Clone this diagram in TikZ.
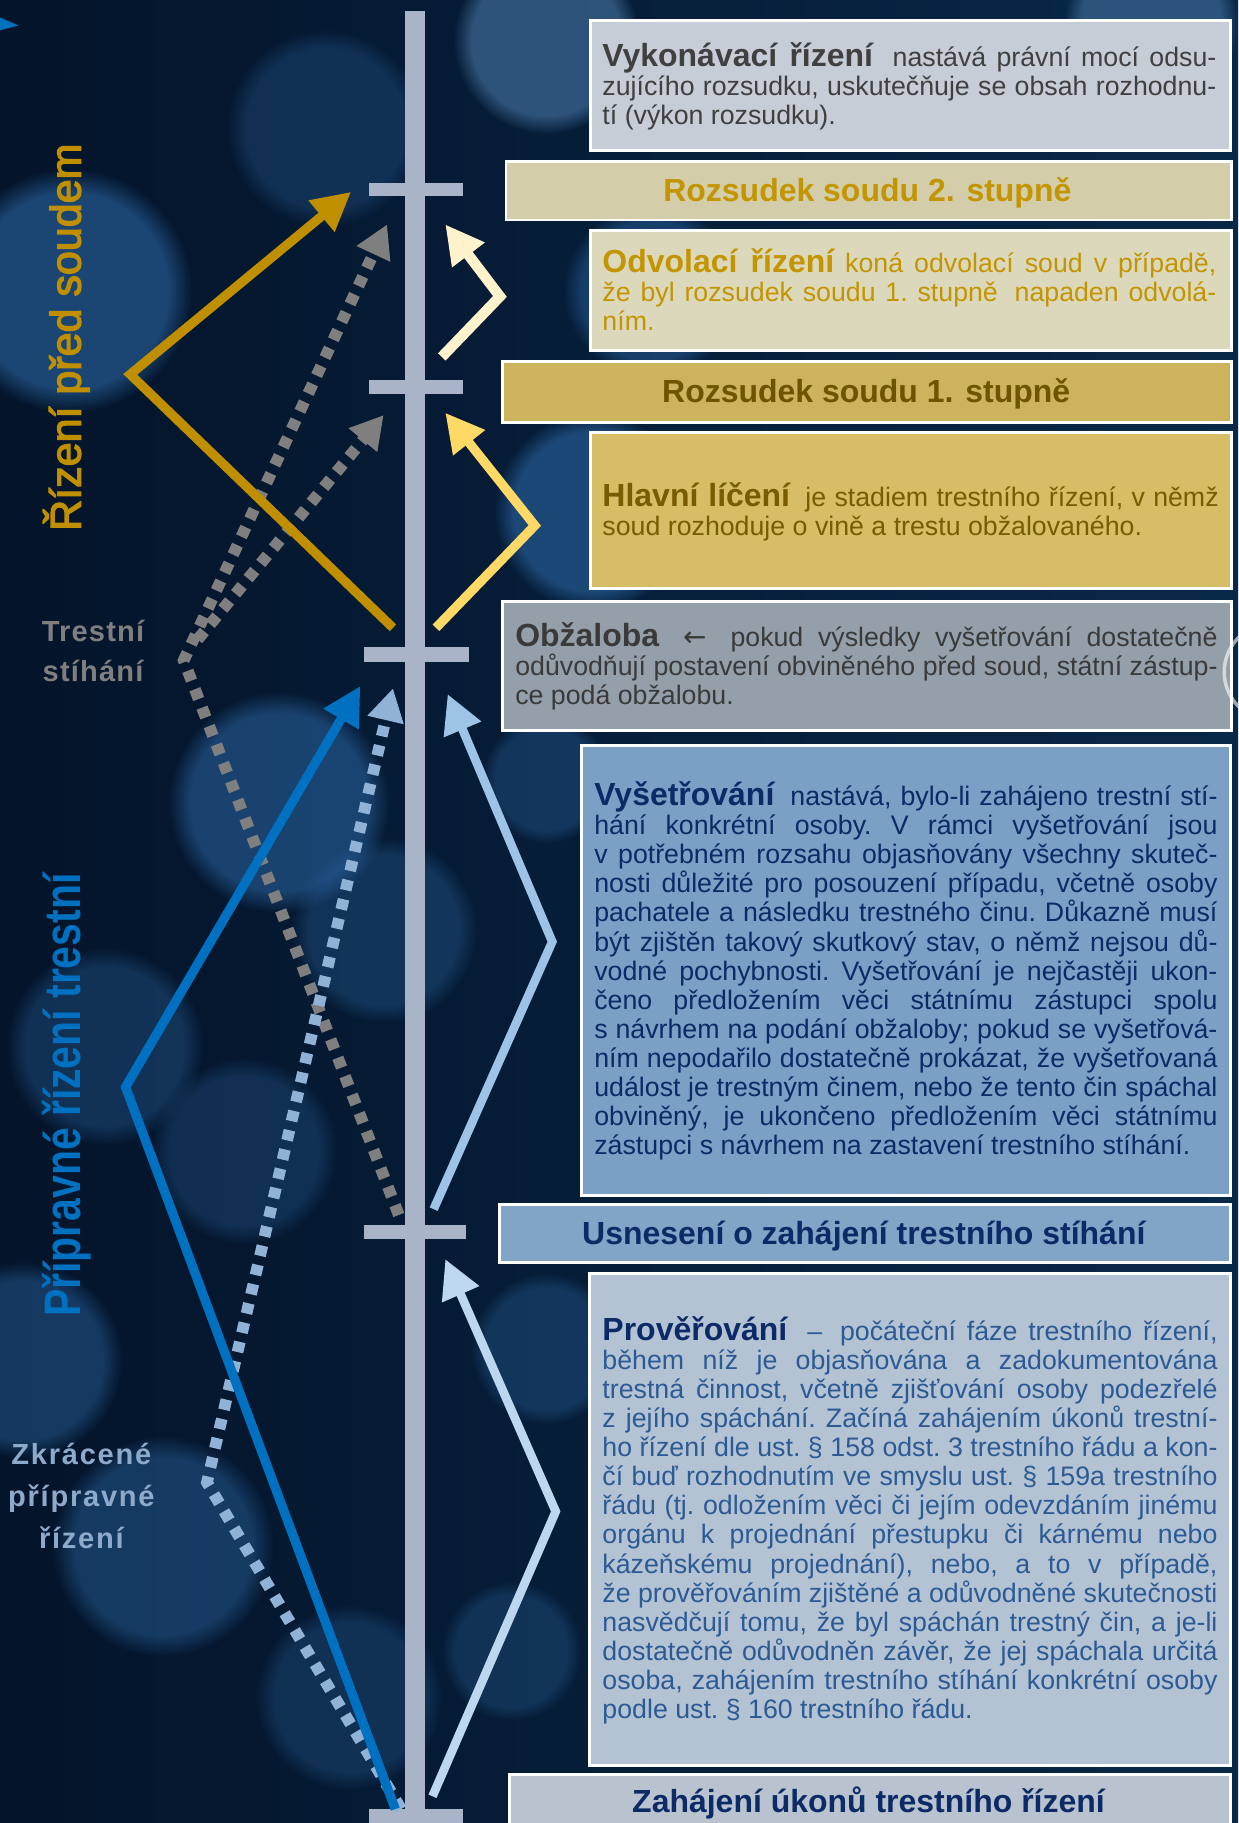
\documentclass[tikz,border=0pt]{standalone}
\usepackage{fontspec}
\setmainfont{Liberation Sans}
\newfontfamily\condfont{Liberation Sans}[FakeStretch=0.8]
\newfontfamily\medfont{Liberation Sans}[FakeBold=3]
\newfontfamily\djv{DejaVu Sans}
\usetikzlibrary{arrows.meta,fadings}

\definecolor{bgA}{HTML}{04142A}
\definecolor{bgB}{HTML}{082848}
\definecolor{barcol}{HTML}{A9B4C8}
\definecolor{goldarr}{HTML}{BF8F00}
\definecolor{grayarr}{HTML}{7F7F7F}
\definecolor{bluearr}{HTML}{0070C0}
\definecolor{bluedot}{HTML}{8FB2D6}
\definecolor{creamarr}{HTML}{FFF2CC}
\definecolor{lgoldarr}{HTML}{FFD966}
\definecolor{lbluearr}{HTML}{9DC3E6}
\definecolor{vlbluearr}{HTML}{BDD7EE}
\definecolor{fillA}{HTML}{C6CDD7}
\definecolor{fillB}{HTML}{D3CDAA}
\definecolor{fillC}{HTML}{DCD8BC}
\definecolor{fillD}{HTML}{CDB35C}
\definecolor{fillE}{HTML}{D6BD66}
\definecolor{fillF}{HTML}{959FAA}
\definecolor{fillG}{HTML}{7AA0C5}
\definecolor{fillH}{HTML}{82A4C7}
\definecolor{fillI}{HTML}{B4C3D3}
\definecolor{fillJ}{HTML}{B8C3CF}
\definecolor{txtgray}{HTML}{404040}
\definecolor{txtgold}{HTML}{C39500}
\definecolor{txtolive}{HTML}{6E5300}
\definecolor{txtbrown}{HTML}{7A5C00}
\definecolor{txtdgray}{HTML}{3A3A3A}
\definecolor{txtnavy}{HTML}{0C2A66}
\definecolor{txtblue}{HTML}{2C5A94}
\definecolor{lblgray}{HTML}{7F7F7F}
\definecolor{lblblue}{HTML}{8EAACB}
\definecolor{bokA}{HTML}{2B66A3}
\definecolor{bokB}{HTML}{4A78A8}

\newcommand{\hd}{\fontsize{27.5}{25}\selectfont\bfseries}
\newcommand{\bd}{\fontsize{23}{25}\selectfont\frenchspacing}
\newcommand{\jline}[1]{\makebox[\linewidth][s]{#1}\\}

\begin{document}
\begin{tikzpicture}[x=1pt,y=-1pt,
  panel/.style={draw=white, line width=2.5pt, inner sep=0pt, anchor=north west},
  bartick/.style={fill=barcol, draw=none, inner sep=0pt, anchor=center},
  txt/.style={inner sep=0pt, anchor=base west},
  head/.style={inner sep=0pt, anchor=base, font=\hd},
  thickarrow/.style={line width=8pt, -{Triangle[length=33pt,width=33pt]}},
  dotarrow/.style={line width=10pt, dash pattern=on 9pt off 8pt, -{Triangle[length=28pt,width=30pt]}},
  bokeh/.style={path fading=circle with fuzzy edge 20 percent},
]
\useasboundingbox (0,0) rectangle (1065,1568);
\begin{scope}
\clip (0,0) rectangle (1065,1568);
% background
\shade[left color=bgA, right color=bgB] (0,0) rectangle (1065,1568);
\fill[bokB, opacity=.6, bokeh] (470,35) circle (80);
\fill[bokB, opacity=.55, bokeh] (990,20) circle (75);
\fill[bokA, opacity=.6, bokeh] (60,250) circle (105);
\fill[bokA, opacity=.3, bokeh] (280,110) circle (85);
\fill[bokA, opacity=.45, bokeh] (560,250) circle (75);
\fill[bokA, opacity=.6, bokeh] (510,440) circle (85);
\fill[bokA, opacity=.55, bokeh] (240,690) circle (95);
\fill[bokA, opacity=.35, bokeh] (90,900) circle (85);
\fill[bokA, opacity=.35, bokeh] (330,800) circle (80);
\fill[bokA, opacity=.3, bokeh] (210,990) circle (80);
\fill[bokA, opacity=.45, bokeh] (20,1170) circle (85);
\fill[bokA, opacity=.45, bokeh] (140,1330) circle (95);
\fill[bokA, opacity=.3, bokeh] (300,1460) circle (80);
\fill[bokA, opacity=.35, bokeh] (470,1160) circle (65);
\fill[bokA, opacity=.35, bokeh] (470,670) circle (55);
\fill[bokA, opacity=.3, bokeh] (440,1420) circle (60);
\fill[bluearr] (0,15) -- (16,22) -- (0,26) -- cycle;

% time axis
\node[fill=barcol, inner sep=0pt, minimum width=17pt, minimum height=1570pt, anchor=north] (bar) at (357,9) {};
\node[bartick, minimum width=81pt, minimum height=12pt] (k1) at (358,163) {};
\node[bartick, minimum width=81pt, minimum height=12pt] (k2) at (358,333) {};
\node[bartick, minimum width=90pt, minimum height=13pt] (k3) at (358,563) {};
\node[bartick, minimum width=87pt, minimum height=12pt] (k4) at (357,1060) {};
\node[bartick, minimum width=81pt, minimum height=14pt] (k5) at (358,1563) {};

% connector points
\coordinate (g0) at (338,540); \coordinate (g1) at (112,322); \coordinate (g2) at (302,165);
\coordinate (d0) at (343,1045); \coordinate (d1) at (158,568); \coordinate (d2) at (333,193);
\coordinate (e0) at (170,550); \coordinate (e2) at (330,357);
\coordinate (q0) at (345,1556); \coordinate (q1) at (178,1275); \coordinate (q2) at (338,592);
\coordinate (s0) at (340,1556); \coordinate (s1) at (108,935); \coordinate (s2) at (310,590);
\coordinate (c0) at (380,307); \coordinate (c1) at (430,255); \coordinate (c2) at (383,193);
\coordinate (h0) at (375,540); \coordinate (h1) at (460,452); \coordinate (h2) at (383,355);
\coordinate (l0) at (373,1040); \coordinate (l1) at (475,810); \coordinate (l2) at (385,597);
\coordinate (v0) at (372,1545); \coordinate (v1) at (478,1300); \coordinate (v2) at (383,1083);

\draw[dotarrow, grayarr] (d0) -- (d1) -- (d2);
\draw[dotarrow, grayarr] (e0) -- (e2);
\draw[thickarrow, goldarr] (g0) -- (g1) -- (g2);
\draw[dotarrow, bluedot] (q0) -- (q1) -- (q2);
\draw[thickarrow, bluearr] (s0) -- (s1) -- (s2);
\draw[thickarrow, creamarr, line width=9pt] (c0) -- (c1) -- (c2);
\draw[thickarrow, lgoldarr] (h0) -- (h1) -- (h2);
\draw[thickarrow, lbluearr, line width=7.5pt] (l0) -- (l1) -- (l2);
\draw[thickarrow, vlbluearr, line width=7.5pt] (v0) -- (v1) -- (v2);

% panels
\node[panel, fill=fillA, minimum width=550pt, minimum height=112pt] (p1) at (507,16) {};
\node[panel, fill=fillB, minimum width=624pt, minimum height=50pt] (p2) at (434,138) {};
\node[panel, fill=fillC, minimum width=551pt, minimum height=103pt] (p3) at (507,197) {};
\node[panel, fill=fillD, minimum width=627pt, minimum height=52pt] (p4) at (431,310) {};
\node[panel, fill=fillE, minimum width=551pt, minimum height=134pt] (p5) at (507,371) {};
\node[panel, fill=fillF, minimum width=627pt, minimum height=111pt] (p6) at (431,516) {};
\node[panel, fill=fillG, minimum width=558pt, minimum height=387pt] (p7) at (499,640) {};
\node[panel, fill=fillH, minimum width=629pt, minimum height=50pt] (p8) at (428,1035) {};
\node[panel, fill=fillI, minimum width=551pt, minimum height=423pt] (p9) at (506,1094) {};
\node[panel, fill=fillJ, minimum width=620pt, minimum height=60pt] (p10) at (437,1525) {};

\draw[white, opacity=.6, line width=3pt] (1095,578) circle (42);

% panel texts
\node[txt, text=txtgray] (t1) at (518,57) {\parbox[t]{528pt}{\bd
\jline{{\hd Vykonávací řízení}\hspace{8pt} nastává právní mocí odsu-}
\jline{zujícího rozsudku, uskutečňuje se obsah rozhodnu-}
tí (výkon rozsudku).}};

\node[head, text=txtgold] (t2) at (746,173) {Rozsudek soudu 2. stupně};

\node[txt, text=txtgold] (t3) at (518,234) {\parbox[t]{528pt}{\bd
\jline{{\hd Odvolací řízení} koná odvolací soud v případě,}
\jline{že byl rozsudek soudu 1. stupně\hspace{6pt} napaden odvolá-}
ním.}};

\node[head, text=txtolive] (t4) at (745,346) {Rozsudek soudu 1. stupně};

\node[txt, text=txtbrown] (t5) at (518,436) {\parbox[t]{530pt}{\bd
\jline{{\hd Hlavní líčení}\hspace{6pt} je stadiem trestního řízení, v němž}
soud rozhoduje o vině a trestu obžalovaného.}};

\node[txt, text=txtdgray] (t6) at (443,556) {\parbox[t]{604pt}{\bd
\jline{{\hd Obžaloba}\hspace{8pt} {\djv\fontsize{24}{25}\selectfont ←}\hspace{8pt} pokud výsledky vyšetřování dostatečně}
\jline{odůvodňují postavení obviněného před soud, státní zástup-}
ce podá obžalobu.}};

\node[txt, text=txtnavy] (t7) at (511,693) {\parbox[t]{536pt}{\bd
\jline{{\hd Vyšetřování}\hspace{6pt} nastává, bylo-li zahájeno trestní stí-}
\jline{hání konkrétní osoby. V rámci vyšetřování jsou}
\jline{v potřebném rozsahu objasňovány všechny skuteč-}
\jline{nosti důležité pro posouzení případu, včetně osoby}
\jline{pachatele a následku trestného činu. Důkazně musí}
\jline{být zjištěn takový skutkový stav, o němž nejsou dů-}
\jline{vodné pochybnosti. Vyšetřování je nejčastěji ukon-}
\jline{čeno předložením věci státnímu zástupci spolu}
\jline{s návrhem na podání obžaloby; pokud se vyšetřová-}
\jline{ním nepodařilo dostatečně prokázat, že vyšetřovaná}
\jline{událost je trestným činem, nebo že tento čin spáchal}
\jline{obviněný, je ukončeno předložením věci státnímu}
zástupci s návrhem na zastavení trestního stíhání.}};

\node[head, text=txtnavy] (t8) at (743,1070) {Usnesení o zahájení trestního stíhání};

\node[txt, text=txtblue] (t9) at (518,1153) {\parbox[t]{529pt}{\bd
\jline{{\hd\color{txtnavy}Prověřování}\hspace{8pt} –\hspace{6pt} počáteční fáze trestního řízení,}
\jline{během níž je objasňována a zadokumentována}
\jline{trestná činnost, včetně zjišťování osoby podezřelé}
\jline{z jejího spáchání. Začíná zahájením úkonů trestní-}
\jline{ho řízení dle ust. § 158 odst. 3 trestního řádu a kon-}
\jline{čí buď rozhodnutím ve smyslu ust. § 159a trestního}
\jline{řádu (tj. odložením věci či jejím odevzdáním jinému}
\jline{orgánu k projednání přestupku či kárnému nebo}
\jline{kázeňskému projednání), nebo, a to v případě,}
\jline{že prověřováním zjištěné a odůvodněné skutečnosti}
\jline{nasvědčují tomu, že byl spáchán trestný čin, a je-li}
\jline{dostatečně odůvodněn závěr, že jej spáchala určitá}
\jline{osoba, zahájením trestního stíhání konkrétní osoby}
podle ust. § 160 trestního řádu.}};

\node[head, text=txtnavy] (t10) at (747,1559) {Zahájení úkonů trestního řízení};

% side labels
\node[rotate=90, text=goldarr, inner sep=0pt, font=\medfont\fontsize{37}{40}\selectfont] (lab1) at (57,290) {Řízení před soudem};
\node[rotate=90, text=bluearr, inner sep=0pt, font=\condfont\bfseries\fontsize{44}{48}\selectfont] (lab2) at (57,942) {Přípravné řízení trestní};
\node[align=center, text=lblgray, inner sep=0pt, font=\bfseries\fontsize{25}{35}\selectfont\addfontfeatures{LetterSpace=4}] (lab3) at (80,560) {Trestní\\stíhání};
\node[align=center, text=lblblue, inner sep=0pt, font=\bfseries\fontsize{25}{36}\selectfont\addfontfeatures{LetterSpace=6}] (lab4) at (70,1287) {Zkrácené\\přípravné\\řízení};
\end{scope}
\end{tikzpicture}
\end{document}
